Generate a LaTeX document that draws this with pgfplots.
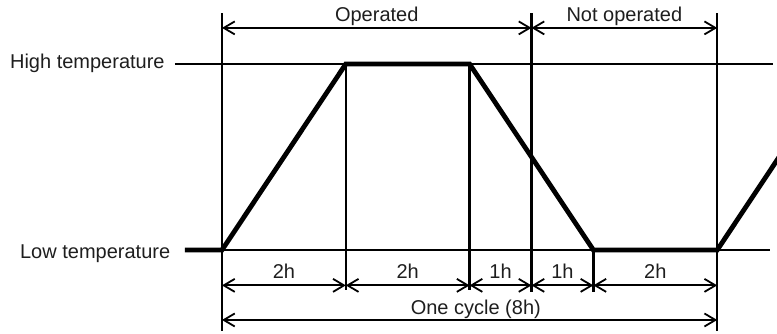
\documentclass[border=0pt]{standalone}
\usepackage{fontspec}
\setmainfont{Liberation Sans}
\usepackage{pgfplots}
\pgfplotsset{compat=1.18}
\usetikzlibrary{arrows.meta}

\definecolor{ink}{HTML}{1E1E1E}
\pgfplotsset{
  thinline/.style={black, line width=1.2pt},
  profile/.style={black, line width=2.4pt, line join=miter},
  dim/.style={black, line width=0.9pt,
    {Straight Barb[length=5.5pt,width=6.5pt]}-{Straight Barb[length=5.5pt,width=6.5pt]}},
}

\begin{document}
\begin{tikzpicture}
  \begin{axis}[
      width=388.5pt, height=166.5pt, scale only axis,
      hide axis,
      xmin=-3.586, xmax=8.966, ymin=-0.446, ymax=1.344,
      every axis plot/.append style={mark=none},
      font=\fontsize{10}{12}\selectfont,
    ]
    \path (rel axis cs:0,0) rectangle (rel axis cs:1,1);
    % temperature levels
    \addplot[thinline] coordinates {(-0.76,1) (8.90,1)};
    \addplot[thinline] coordinates {(-0.6,0) (8.85,0)};
    % vertical guides
    \addplot[thinline] coordinates {(0,1.274) (0,-0.435)};
    \addplot[thinline] coordinates {(2,1) (2,-0.215)};
    \addplot[thinline] coordinates {(4,1) (4,-0.215)};
    \addplot[thinline] coordinates {(5,1.274) (5,-0.226)};
    \addplot[thinline] coordinates {(6,0) (6,-0.226)};
    \addplot[thinline] coordinates {(8,1.274) (8,-0.435)};
    % temperature profile
    \addplot[profile] coordinates {(-0.6,0) (0,0) (2,1) (4,1) (6,0) (8,0) (10,1)};
    % dimension arrows
    \addplot[dim] coordinates {(0,1.194) (5,1.194)};
    \addplot[dim] coordinates {(5,1.194) (8,1.194)};
    \addplot[dim] coordinates {(0,-0.19) (2,-0.19)};
    \addplot[dim] coordinates {(2,-0.19) (4,-0.19)};
    \addplot[dim] coordinates {(4,-0.19) (5,-0.19)};
    \addplot[dim] coordinates {(5,-0.19) (6,-0.19)};
    \addplot[dim] coordinates {(6,-0.19) (8,-0.19)};
    \addplot[dim] coordinates {(0,-0.376) (8,-0.376)};
    % labels
    \node[anchor=base east, text=ink, inner sep=0pt] at (axis cs:-0.92,0.978) {High temperature};
    \node[anchor=base east, text=ink, inner sep=0pt] at (axis cs:-0.83,-0.043) {Low temperature};
    \node[anchor=base, text=ink, inner sep=0pt] at (axis cs:2.5,1.226) {Operated};
    \node[anchor=base, text=ink, inner sep=0pt] at (axis cs:6.5,1.226) {Not operated};
    \node[anchor=base, text=ink, inner sep=0pt] at (axis cs:1,-0.154) {2h};
    \node[anchor=base, text=ink, inner sep=0pt] at (axis cs:3,-0.154) {2h};
    \node[anchor=base, text=ink, inner sep=0pt] at (axis cs:4.5,-0.154) {1h};
    \node[anchor=base, text=ink, inner sep=0pt] at (axis cs:5.5,-0.154) {1h};
    \node[anchor=base, text=ink, inner sep=0pt] at (axis cs:7,-0.154) {2h};
    \node[anchor=base, text=ink, inner sep=0pt] at (axis cs:4.1,-0.344) {One cycle (8h)};
  \end{axis}
\end{tikzpicture}
\end{document}
